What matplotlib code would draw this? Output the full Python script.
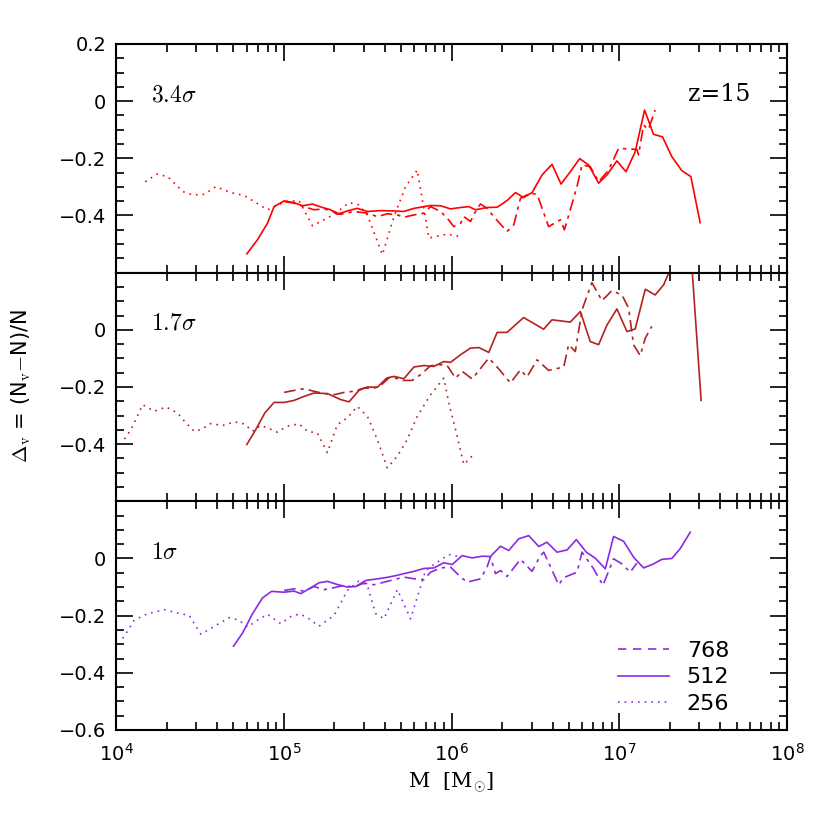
"""
Void abundance offsets vs. halo mass for three peak heights, z=15.
"""

import numpy as np
import matplotlib
matplotlib.use("Agg")
from matplotlib import pyplot as plt
from matplotlib.lines import Line2D
from matplotlib.ticker import FixedLocator, MultipleLocator, LogLocator, NullFormatter


# Visual elements
TICK_FONTSIZE = 14
LABEL_FONTSIZE = 15
NOTE_FONTSIZE = 17
LEGEND_FONTSIZE = 16
LINE_WIDTH = 1.2

COLORS = ["#ff0000", "#b22222", "#8a2be2"]
PANEL_NOTES = [r"$3.4\sigma$", r"$1.7\sigma$", r"$1\sigma$"]
RES_LABELS = ["768", "512", "256"]

# ---------------- data: log10(M / Msun), Delta_v ----------------
# 3.4 sigma
top_768_logm = [5.002, 5.061, 5.121, 5.180, 5.240, 5.300, 5.339, 5.418, 5.498, 5.558,
                5.617, 5.677, 5.716, 5.776, 5.835, 5.875, 5.935, 5.974, 6.014, 6.054,
                6.073, 6.113, 6.153, 6.173, 6.212, 6.252, 6.331, 6.371, 6.411, 6.470,
                6.510, 6.579, 6.649, 6.673, 6.748, 6.778, 6.827, 6.877, 6.937, 6.996,
                7.105, 7.115, 7.145, 7.174, 7.214]
top_768 = [-0.351, -0.357, -0.369, -0.380, -0.377, -0.386, -0.396, -0.386, -0.392, -0.404,
           -0.394, -0.398, -0.406, -0.398, -0.392, -0.369, -0.386, -0.409, -0.439, -0.427,
           -0.404, -0.421, -0.375, -0.360, -0.375, -0.404, -0.456, -0.433, -0.340, -0.322,
           -0.326, -0.439, -0.415, -0.450, -0.299, -0.223, -0.229, -0.282, -0.241, -0.165,
           -0.169, -0.188, -0.084, -0.099, -0.031]
top_512_logm = [4.780, 4.843, 4.903, 4.942, 5.002, 5.061, 5.111, 5.171, 5.230, 5.280,
                5.319, 5.379, 5.438, 5.498, 5.577, 5.657, 5.716, 5.776, 5.875, 5.935,
                5.994, 6.054, 6.103, 6.143, 6.212, 6.272, 6.331, 6.381, 6.430, 6.480,
                6.540, 6.599, 6.653, 6.708, 6.764, 6.817, 6.877, 6.927, 6.986, 7.040,
                7.095, 7.151, 7.204, 7.258, 7.313, 7.373, 7.427, 7.482]
top_512 = [-0.534, -0.485, -0.427, -0.369, -0.349, -0.355, -0.366, -0.360, -0.372, -0.380,
           -0.396, -0.384, -0.375, -0.386, -0.383, -0.384, -0.386, -0.375, -0.365, -0.366,
           -0.377, -0.372, -0.369, -0.380, -0.372, -0.371, -0.348, -0.320, -0.337, -0.320,
           -0.258, -0.221, -0.290, -0.247, -0.201, -0.223, -0.287, -0.258, -0.209, -0.247,
           -0.177, -0.031, -0.116, -0.125, -0.194, -0.243, -0.264, -0.425]
top_256_logm = [4.174, 4.244, 4.308, 4.397, 4.456, 4.526, 4.595, 4.685, 4.764, 4.903,
                5.012, 5.091, 5.171, 5.300, 5.389, 5.448, 5.498, 5.588, 5.657, 5.726,
                5.796, 5.865, 5.974, 6.054]
top_256 = [-0.282, -0.255, -0.264, -0.316, -0.328, -0.326, -0.299, -0.320, -0.330, -0.380,
           -0.351, -0.348, -0.436, -0.396, -0.355, -0.363, -0.398, -0.537, -0.404, -0.299,
           -0.241, -0.479, -0.465, -0.474]

# 1.7 sigma
mid_768_logm = [5.002, 5.061, 5.121, 5.180, 5.240, 5.300, 5.359, 5.418, 5.478, 5.538,
                5.577, 5.637, 5.707, 5.766, 5.815, 5.875, 5.935, 5.974, 6.024, 6.063,
                6.123, 6.222, 6.282, 6.351, 6.411, 6.450, 6.510, 6.579, 6.669, 6.698,
                6.738, 6.778, 6.837, 6.897, 6.956, 7.016, 7.056, 7.085, 7.125, 7.155,
                7.194]
mid_768 = [-0.219, -0.212, -0.206, -0.215, -0.223, -0.227, -0.219, -0.215, -0.204, -0.204,
           -0.195, -0.163, -0.177, -0.177, -0.157, -0.126, -0.122, -0.125, -0.169, -0.145,
           -0.172, -0.099, -0.137, -0.186, -0.140, -0.165, -0.105, -0.142, -0.130, -0.052,
           -0.076, 0.070, 0.165, 0.102, 0.137, 0.122, 0.076, -0.052, -0.090, -0.029,
           0.012]
mid_512_logm = [4.780, 4.833, 4.887, 4.942, 5.002, 5.061, 5.121, 5.180, 5.260, 5.339,
                5.389, 5.448, 5.498, 5.558, 5.613, 5.657, 5.716, 5.776, 5.835, 5.895,
                5.954, 5.994, 6.054, 6.113, 6.163, 6.222, 6.272, 6.331, 6.430, 6.549,
                6.599, 6.708, 6.768, 6.827, 6.877, 6.927, 6.986, 7.046, 7.095, 7.155,
                7.214, 7.264, 7.363, 7.425, 7.488]
mid_512 = [-0.401, -0.349, -0.291, -0.254, -0.254, -0.247, -0.233, -0.221, -0.223, -0.244,
           -0.252, -0.212, -0.200, -0.201, -0.169, -0.163, -0.171, -0.130, -0.125, -0.128,
           -0.111, -0.114, -0.087, -0.064, -0.062, -0.079, -0.009, -0.009, 0.043, 0.002,
           0.035, 0.027, 0.064, -0.041, -0.052, 0.017, 0.073, -0.006, 0.003, 0.142,
           0.122, 0.157, 0.29, 0.29, -0.247]
mid_256_logm = [4.050, 4.089, 4.159, 4.228, 4.298, 4.367, 4.417, 4.466, 4.506, 4.565,
                4.635, 4.704, 4.764, 4.814, 4.863, 4.913, 4.962, 5.022, 5.091, 5.141,
                5.200, 5.260, 5.319, 5.379, 5.438, 5.498, 5.558, 5.617, 5.677, 5.736,
                5.796, 5.875, 5.954, 5.984, 6.024, 6.073, 6.103, 6.133]
mid_256 = [-0.382, -0.349, -0.262, -0.285, -0.270, -0.291, -0.326, -0.355, -0.349, -0.328,
           -0.335, -0.322, -0.329, -0.355, -0.334, -0.346, -0.358, -0.337, -0.329, -0.355,
           -0.361, -0.430, -0.332, -0.308, -0.268, -0.302, -0.384, -0.483, -0.442, -0.384,
           -0.302, -0.227, -0.169, -0.256, -0.349, -0.471, -0.454, -0.434]

# 1 sigma
bot_768_logm = [5.002, 5.061, 5.121, 5.180, 5.240, 5.300, 5.359, 5.418, 5.478, 5.538,
                5.597, 5.657, 5.716, 5.776, 5.835, 5.875, 5.935, 5.994, 6.054, 6.093,
                6.173, 6.212, 6.232, 6.262, 6.292, 6.331, 6.411, 6.480, 6.530, 6.550,
                6.639, 6.669, 6.748, 6.778, 6.847, 6.903, 6.966, 7.016, 7.065, 7.105]
bot_768 = [-0.112, -0.106, -0.115, -0.098, -0.109, -0.102, -0.094, -0.100, -0.086, -0.092,
           -0.083, -0.074, -0.065, -0.071, -0.074, -0.048, -0.033, -0.030, -0.065, -0.083,
           -0.071, -0.030, 0.005, -0.053, -0.042, -0.063, -0.003, -0.045, 0.010, 0.022,
           -0.092, -0.067, -0.048, 0.022, -0.036, -0.094, -0.001, -0.019, -0.048, -0.016]
bot_512_logm = [4.700, 4.754, 4.814, 4.873, 4.927, 5.002, 5.061, 5.101, 5.151, 5.210,
                5.260, 5.319, 5.379, 5.429, 5.488, 5.548, 5.607, 5.667, 5.716, 5.776,
                5.835, 5.895, 5.954, 6.004, 6.054, 6.063, 6.123, 6.183, 6.232, 6.292,
                6.341, 6.401, 6.460, 6.520, 6.569, 6.629, 6.689, 6.744, 6.804, 6.857,
                6.917, 6.966, 7.026, 7.085, 7.145, 7.204, 7.254, 7.313, 7.363, 7.423]
bot_512 = [-0.307, -0.261, -0.193, -0.138, -0.115, -0.118, -0.114, -0.123, -0.106, -0.085,
           -0.080, -0.091, -0.100, -0.098, -0.077, -0.072, -0.067, -0.060, -0.053, -0.045,
           -0.035, -0.033, -0.015, -0.021, 0.005, 0.010, 0.002, 0.008, 0.007, 0.043,
           0.028, 0.069, 0.080, 0.042, 0.057, 0.022, 0.030, 0.066, 0.022, 0.001,
           -0.036, 0.077, 0.060, 0.005, -0.033, -0.019, -0.003, 0.000, 0.034, 0.092]
bot_256_logm = [4.040, 4.109, 4.188, 4.288, 4.367, 4.436, 4.506, 4.595, 4.675, 4.734,
                4.784, 4.843, 4.903, 4.982, 5.052, 5.101, 5.151, 5.210, 5.300, 5.379,
                5.448, 5.498, 5.548, 5.597, 5.677, 5.756, 5.845, 5.915, 5.984, 6.054]
bot_256 = [-0.280, -0.216, -0.193, -0.179, -0.191, -0.199, -0.265, -0.234, -0.207, -0.216,
           -0.240, -0.216, -0.195, -0.228, -0.199, -0.195, -0.211, -0.237, -0.199, -0.112,
           -0.079, -0.094, -0.193, -0.211, -0.109, -0.211, -0.042, -0.013, 0.014, 0.005]

PANELS = [
    [(top_768_logm, top_768), (top_512_logm, top_512), (top_256_logm, top_256)],
    [(mid_768_logm, mid_768), (mid_512_logm, mid_512), (mid_256_logm, mid_256)],
    [(bot_768_logm, bot_768), (bot_512_logm, bot_512), (bot_256_logm, bot_256)],
]

# line styles for 768 / 512 / 256
STYLES = [(0, (7, 3, 2, 3)), "-", (0, (1, 3))]

Y_LABELED = [[0.2, 0.0, -0.2, -0.4], [0.0, -0.2, -0.4], [0.0, -0.2, -0.4, -0.6]]


def fmt_tick(v):
    """Tick label in the plain style of the reference."""
    if abs(v) < 1e-9:
        return "0"
    return ("\u2212" if v < 0 else "") + "%.1f" % abs(v)


def setup_panel(axis, labeled):
    """Log x axis, inward ticks on every side, selective y labels."""
    axis.set_xscale("log")
    axis.set_xlim(1e4, 1e8)
    axis.set_ylim(-0.6, 0.2)
    axis.xaxis.set_major_locator(LogLocator(base=10, numticks=10))
    axis.xaxis.set_minor_locator(LogLocator(base=10, subs=np.arange(2, 10), numticks=20))
    axis.xaxis.set_minor_formatter(NullFormatter())
    axis.yaxis.set_major_locator(FixedLocator([0.2, 0.0, -0.2, -0.4, -0.6]))
    axis.yaxis.set_minor_locator(MultipleLocator(0.05))
    axis.set_yticklabels([fmt_tick(v) if any(abs(v - l) < 1e-9 for l in labeled) else ""
                          for v in [0.2, 0.0, -0.2, -0.4, -0.6]])
    axis.tick_params(which="both", direction="in", top=True, right=True,
                     labelsize=TICK_FONTSIZE, width=1.2)
    axis.tick_params(which="major", length=12)
    axis.tick_params(which="minor", length=6)
    axis.tick_params(axis="x", which="major", pad=9)
    axis.tick_params(axis="y", which="major", pad=7)
    for spine in axis.spines.values():
        spine.set_linewidth(1.5)


plt.rcParams["mathtext.fontset"] = "cm"

fig = plt.figure(figsize=(8.3, 8.3), dpi=100)
left, width = 0.1398, 0.8084
bottom, height = 0.1205, 0.2755
axes = [fig.add_axes([left, bottom + (2 - i) * height, width, height]) for i in range(3)]

for i, axis in enumerate(axes):
    setup_panel(axis, Y_LABELED[i])
    for j, (logm, vals) in enumerate(PANELS[i]):
        axis.plot(10 ** np.array(logm), vals, color=COLORS[i],
                  linestyle=STYLES[j], linewidth=LINE_WIDTH)
    axis.text(0.052, 0.78, PANEL_NOTES[i], transform=axis.transAxes,
              fontsize=NOTE_FONTSIZE, va="center", ha="left")
    if i < 2:
        axis.tick_params(labelbottom=False)

axes[0].text(0.945, 0.78, "z=15", transform=axes[0].transAxes,
             fontsize=NOTE_FONTSIZE, va="center", ha="right", family="DejaVu Serif")

handles = [Line2D([], [], color=COLORS[2], linestyle=ls, linewidth=LINE_WIDTH)
           for ls in [(0, (5, 4)), "-", (0, (1, 3))]]
axes[2].legend(handles, RES_LABELS, loc="lower left", bbox_to_anchor=(0.748, 0.07),
               frameon=False, fontsize=LEGEND_FONTSIZE, handlelength=2.3,
               handletextpad=0.8, labelspacing=0.3, borderpad=0.0, borderaxespad=0.0)

axes[2].set_xlabel(r"M  [M$_{\odot}$]", fontsize=LABEL_FONTSIZE, family="DejaVu Serif")
fig.text(0.025, 0.535, r"$\Delta_{\rm v}$ = (N$_{\rm v}$$-$N)/N", rotation=90,
         fontsize=LABEL_FONTSIZE, va="center", ha="center")

fig.savefig("out.png", dpi=100)
